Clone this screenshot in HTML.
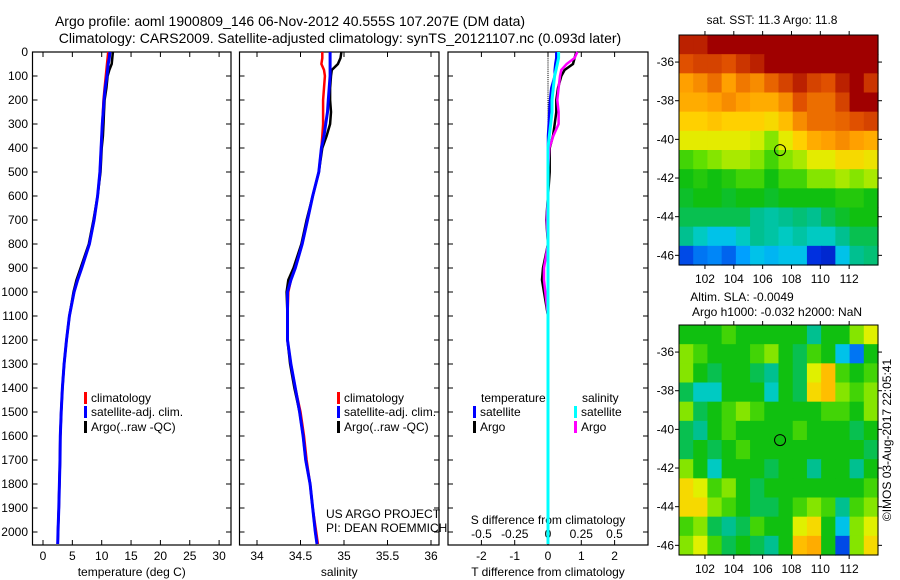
<!DOCTYPE html>
<html><head><meta charset="utf-8">
<style>
body{margin:0;background:#fff;}
svg{display:block;font-family:"Liberation Sans",sans-serif;}
</style></head>
<body>
<svg id="chart" width="900" height="580" viewBox="0 0 900 580" xmlns="http://www.w3.org/2000/svg">
<text x="290" y="26" font-size="14" text-anchor="middle">Argo profile: aoml 1900809_146 06-Nov-2012 40.555S 107.207E (DM data)</text>
<text x="340" y="43" font-size="14" text-anchor="middle">Climatology: CARS2009. Satellite-adjusted climatology: synTS_20121107.nc (0.093d later)</text>
<text x="772" y="24" font-size="12" text-anchor="middle">sat. SST: 11.3 Argo: 11.8</text>
<text x="742" y="301" font-size="12" text-anchor="middle">Altim. SLA: -0.0049</text>
<text x="777" y="316" font-size="12" text-anchor="middle">Argo h1000: -0.032 h2000: NaN</text>
<text transform="translate(891,440) rotate(-90)" font-size="12" text-anchor="middle">©IMOS 03-Aug-2017 22:05:41</text>
<g id="g"></g>
</svg>
<script>
const depths=[0,25,50,75,100,150,200,250,300,350,400,500,600,700,800,900,950,1000,1100,1200,1300,1400,1500,1600,1700,1800,1900,2000,2050];
const tempClim=[11.1,11.0,10.9,10.8,10.7,10.5,10.3,10.2,10.1,10.0,9.9,9.7,9.3,8.7,7.9,6.6,5.9,5.3,4.5,4.0,3.6,3.3,3.1,2.95,2.9,2.8,2.7,2.55,2.5];
const tempSat=[11.4,11.3,11.1,11.0,10.9,10.6,10.4,10.25,10.1,10.0,9.9,9.7,9.3,8.7,7.9,6.6,5.9,5.3,4.5,4.0,3.6,3.3,3.1,2.95,2.9,2.8,2.7,2.55,2.5];
const tempArgo=[11.9,11.8,11.7,11.3,11.0,10.8,10.5,10.4,10.3,10.2,10.0,9.8,9.3,8.6,7.8,6.4,5.7,5.2,4.5,4.0,3.6,3.3,3.1,2.95,2.9,2.8,2.7,2.55,2.5];
const salClim=[34.75,34.75,34.74,34.77,34.78,34.77,34.76,34.76,34.76,34.75,34.74,34.71,34.64,34.58,34.52,34.44,34.39,34.36,34.35,34.35,34.39,34.44,34.5,34.54,34.57,34.61,34.64,34.68,34.70];
const salSat=[34.84,34.84,34.84,34.84,34.84,34.83,34.82,34.81,34.79,34.77,34.74,34.71,34.64,34.58,34.52,34.44,34.39,34.35,34.35,34.35,34.39,34.44,34.49,34.53,34.56,34.61,34.64,34.67,34.69];
const salArgo=[34.97,34.96,34.93,34.86,34.85,34.84,34.84,34.85,34.84,34.80,34.75,34.71,34.64,34.57,34.51,34.42,34.36,34.34,34.35,34.35,34.38,34.43,34.49,34.53,34.56,34.61,34.64,34.67,34.69];
const tDiffSat=[0.25,0.25,0.22,0.2,0.2,0.1,0.06,0.04,0.02,0,0,0,0,0,0,0,0,0,0,0,0,0,0,0,0,0,0,0,0];
const tDiffArgo=[0.85,0.8,0.75,0.5,0.4,0.3,0.25,0.25,0.2,0.15,0.05,0.05,0,-0.05,0,-0.15,-0.18,-0.12,0,0,0,0,0,0,0,0,0,0,0];
const sDiffSat=[0.08,0.08,0.07,0.06,0.05,0.04,0.03,0.03,0.02,0.01,0,0,0,0,0,0,0,0,0,0,0,0,0,0,0,0,0,0,0];
const sDiffArgo=[0.22,0.2,0.14,0.1,0.09,0.08,0.07,0.08,0.08,0.04,0.01,0,0,-0.01,0,-0.03,-0.03,-0.02,0,0,0,0,0,0,0,0,0,0,0];
const depthTicks=[0,100,200,300,400,500,600,700,800,900,1000,1100,1200,1300,1400,1500,1600,1700,1800,1900,2000];
const tempTicks=[0,5,10,15,20,25,30];
const salTicks=[34,34.5,35,35.5,36];
const tDiffTicks=[-2,-1,0,1,2];
const sDiffTicks=[-0.5,-0.25,0,0.25,0.5];
const sDiffTickLabels=["-0.5","-0.25","0","0.25","0.5"];
const lonTicks=[102,104,106,108,110,112];
const latTicks=[-36,-38,-40,-42,-44,-46];
const sstGrid=[
[0.95,0.95,1,1,1,1,1,1,1,1,1,1,1,1],
[0.88,0.9,0.9,0.88,0.92,0.95,1,1,1,1,1,1,1,1],
[0.8,0.82,0.85,0.8,0.84,0.82,0.86,0.9,0.95,0.9,0.88,0.95,1,0.92],
[0.78,0.78,0.8,0.82,0.8,0.78,0.78,0.82,0.88,0.85,0.85,0.9,1,1],
[0.72,0.72,0.74,0.72,0.72,0.72,0.7,0.75,0.82,0.85,0.85,0.86,0.88,0.9],
[0.66,0.66,0.66,0.66,0.66,0.64,0.6,0.66,0.72,0.78,0.8,0.82,0.8,0.78],
[0.55,0.58,0.6,0.62,0.62,0.6,0.55,0.6,0.62,0.66,0.66,0.7,0.7,0.68],
[0.5,0.52,0.5,0.52,0.55,0.55,0.5,0.55,0.55,0.6,0.6,0.62,0.6,0.62],
[0.48,0.5,0.5,0.48,0.5,0.5,0.48,0.5,0.5,0.5,0.5,0.52,0.52,0.5],
[0.45,0.45,0.45,0.45,0.45,0.4,0.38,0.4,0.42,0.4,0.45,0.48,0.5,0.5],
[0.4,0.35,0.3,0.3,0.35,0.4,0.38,0.35,0.38,0.35,0.35,0.4,0.45,0.45],
[0.15,0.2,0.22,0.18,0.25,0.3,0.28,0.3,0.3,0.12,0.1,0.3,0.4,0.42]];
const slaGrid=[
[.5,.5,.5,.55,.5,.5,.5,.5,.5,.4,.5,.5,.6,.65],
[.6,.55,.5,.5,.5,.55,.6,.5,.45,.55,.5,.3,.2,.5],
[.6,.5,.45,.5,.5,.45,.4,.5,.45,.65,.75,.55,.5,.55],
[.45,.35,.35,.5,.5,.5,.35,.5,.45,.7,.75,.6,.55,.6],
[.6,.45,.5,.55,.6,.55,.5,.5,.5,.5,.55,.55,.5,.6],
[.45,.4,.5,.55,.5,.5,.5,.5,.55,.5,.5,.5,.45,.5],
[.45,.5,.45,.5,.55,.5,.5,.5,.5,.5,.5,.5,.5,.45],
[.6,.5,.35,.5,.5,.5,.45,.5,.5,.4,.5,.5,.4,.5],
[.7,.65,.55,.6,.5,.45,.5,.5,.5,.5,.5,.5,.5,.55],
[.7,.7,.6,.55,.5,.45,.45,.5,.55,.6,.55,.4,.55,.6],
[.55,.6,.45,.4,.45,.55,.5,.5,.65,.7,.5,.3,.6,.65],
[.6,.65,.55,.45,.5,.45,.4,.5,.75,.78,.5,.15,.6,.7]];
const argoLon=107.207, argoLat=-40.555;

const NS="http://www.w3.org/2000/svg";
const G=document.getElementById('g');
function el(tag,attrs,parent,txt){const e=document.createElementNS(NS,tag);for(const k in attrs)e.setAttribute(k,attrs[k]);if(txt!==undefined)e.textContent=txt;(parent||G).appendChild(e);return e;}
const yD=d=>52+d*0.24;
const TOP=52,BOT=545;

function panel(name,x0,x1,xs,ticks,labels,title){
  const f=el('rect',{x:x0,y:TOP,width:x1-x0,height:BOT-TOP,fill:'none',stroke:'#000','stroke-width':1.2});
  
  
  ticks.forEach((t,i)=>{
    const x=xs(t);
    const a=el('line',{x1:x,x2:x,y1:BOT,y2:BOT-5,stroke:'#000'});
    
    
    const b=el('line',{x1:x,x2:x,y1:TOP,y2:TOP+5,stroke:'#000'});
    
    
    const l=el('text',{x:x,y:560,'font-size':12,'text-anchor':'middle'},G,labels?labels[i]:String(t));
    
    
  });
  depthTicks.forEach(d=>{
    const y=yD(d);
    const a=el('line',{x1:x0,x2:x0+5,y1:y,y2:y,stroke:'#000'});
    
    
    const b=el('line',{x1:x1,x2:x1-5,y1:y,y2:y,stroke:'#000'});
    
    
  });
  const t=el('text',{x:(x0+x1)/2,y:576,'font-size':12,'text-anchor':'middle'},G,title);
  
  
}
function line(name,vals,xs,color,w){
  const pts=vals.map((v,i)=>xs(v).toFixed(1)+','+yD(depths[i]).toFixed(1)).join(' ');
  const p=el('polyline',{points:pts,fill:'none',stroke:color,'stroke-width':w,'stroke-linejoin':'miter'});
  
  
}
function legendEntry(name,x,y,color,txt){
  const r=el('rect',{x:x,y:y-10,width:3,height:12,fill:color});
  
  
  const t=el('text',{x:x+7,y:y,'font-size':12},G,txt);
  
  
}

// depth labels
depthTicks.forEach(d=>{
  const t=el('text',{x:28,y:yD(d)+4,'font-size':12,'text-anchor':'end'},G,String(d));
  
  
});

// Panel 1 temperature
const xT=v=>43+v*5.87;
panel('temperature-panel',32.5,231,xT,tempTicks,null,'temperature (deg C)');
line('temp-climatology-line',tempClim,xT,'#f00',2.5);
line('temp-argo-line',tempArgo,xT,'#000',2.5);
line('temp-satellite-line',tempSat,xT,'#00f',3);
legendEntry('legend-climatology',84,402,'#f00','climatology');
legendEntry('legend-satellite-adj',84,416,'#00f','satellite-adj. clim.');
legendEntry('legend-argo',84,431,'#000','Argo(..raw -QC)');

// Panel 2 salinity
const xS=v=>257+(v-34)*87;
panel('salinity-panel',239.5,439,xS,salTicks,null,'salinity');
line('sal-climatology-line',salClim,xS,'#f00',2.5);
line('sal-argo-line',salArgo,xS,'#000',2.5);
line('sal-satellite-line',salSat,xS,'#00f',3);
legendEntry('legend-sal-climatology',337,402,'#f00','climatology');
legendEntry('legend-sal-satellite-adj',337,416,'#00f','satellite-adj. clim.');
legendEntry('legend-sal-argo',337,431,'#000','Argo(..raw -QC)');
[['US ARGO PROJECT',518,'project-credit'],['PI: DEAN ROEMMICH',532,'pi-credit']].forEach(a=>{
  const t=el('text',{x:326,y:a[1],'font-size':12},G,a[0]);
  
  
});

// Panel 3 differences
const xTD=v=>548+v*33.3;
const xSD=v=>548+v*133;
panel('difference-panel',448,648,xTD,tDiffTicks,null,'T difference from climatology');
for(let d=0;d<2050;d+=8){
  const z=el('rect',{x:547.5,y:yD(d),width:1,height:1,fill:'#000'});
  
  
}
sDiffTicks.forEach((t,i)=>{
  const l=el('text',{x:xSD(t),y:538,'font-size':12,'text-anchor':'middle'},G,sDiffTickLabels[i]);
  
  
});
const sdt=el('text',{x:548,y:524,'font-size':12,'text-anchor':'middle'},G,'S difference from climatology');


line('t-diff-argo-line',tDiffArgo,xTD,'#000',2.5);
line('s-diff-argo-line',sDiffArgo,xSD,'#f0f',2.5);
line('t-diff-satellite-line',tDiffSat,xTD,'#00f',2.5);
line('s-diff-satellite-line',sDiffSat,xSD,'#0ff',3);
const lt=el('text',{x:481,y:402,'font-size':12},G,'temperature');


const ls=el('text',{x:582,y:402,'font-size':12},G,'salinity');


legendEntry('legend-t-satellite',473,416,'#00f','satellite');
legendEntry('legend-t-argo',473,431,'#000','Argo');
legendEntry('legend-s-satellite',574,416,'#0ff','satellite');
legendEntry('legend-s-argo',574,431,'#f0f','Argo');

// Maps
const stops=[[0,[0,0,128]],[0.12,[0,48,224]],[0.25,[0,160,255]],[0.32,[0,208,224]],[0.4,[0,192,144]],[0.5,[16,192,16]],[0.58,[96,224,0]],[0.65,[224,240,0]],[0.72,[255,208,0]],[0.8,[255,160,0]],[0.88,[224,80,0]],[1,[160,0,0]]];
function cmap(v){
  v=Math.max(0,Math.min(1,v));
  for(let i=1;i<stops.length;i++){if(v<=stops[i][0]){const a=stops[i-1],b=stops[i];const t=(v-a[0])/(b[0]-a[0]);const c=a[1].map((x,k)=>Math.round(x+(b[1][k]-x)*t));return 'rgb('+c.join(',')+')';}}
  return 'rgb(160,0,0)';
}
const LON0=100.2,LON1=114.0,LAT0=-34.6,LAT1=-46.5;
function map(name,grid,top){
  const X0=679,X1=878,Y0=top,Y1=top+230;
  const xL=lon=>X0+(lon-LON0)/(LON1-LON0)*(X1-X0);
  const yL=lat=>Y0+(lat-LAT0)/(LAT1-LAT0)*(Y1-Y0);
  const rows=grid.length,cols=grid[0].length;
  const cw=(X1-X0)/cols,ch=(Y1-Y0)/rows;
  grid.forEach((row,r)=>row.forEach((v,c)=>{
    const cell=el('rect',{x:(X0+c*cw).toFixed(2),y:(Y0+r*ch).toFixed(2),width:(cw+0.6).toFixed(2),height:(ch+0.6).toFixed(2),fill:cmap(v)});
    
    
  }));
  const f=el('rect',{x:X0,y:Y0,width:X1-X0,height:Y1-Y0,fill:'none',stroke:'#000','stroke-width':1});
  
  
  lonTicks.forEach(l=>{
    const x=xL(l);
    const a=el('line',{x1:x,x2:x,y1:Y0,y2:Y0-4,stroke:'#000'});
    
    
    const b=el('line',{x1:x,x2:x,y1:Y1,y2:Y1+4,stroke:'#000'});
    
    
    const t=el('text',{x:x,y:Y1+18,'font-size':12,'text-anchor':'middle'},G,String(l));
    
    
  });
  latTicks.forEach(l=>{
    const y=yL(l);
    const a=el('line',{x1:X0,x2:X0-4,y1:y,y2:y,stroke:'#000'});
    
    
    const b=el('line',{x1:X1,x2:X1+4,y1:y,y2:y,stroke:'#000'});
    
    
    const t=el('text',{x:X0-5,y:y+4,'font-size':12,'text-anchor':'end'},G,String(l));
    
    
  });
  const c=el('circle',{cx:xL(argoLon),cy:yL(argoLat),r:5.5,fill:'none',stroke:'#000','stroke-width':1});
  
  
}
map('sst-map',sstGrid,35);
map('sla-map',slaGrid,325);
</script>
</body></html>
